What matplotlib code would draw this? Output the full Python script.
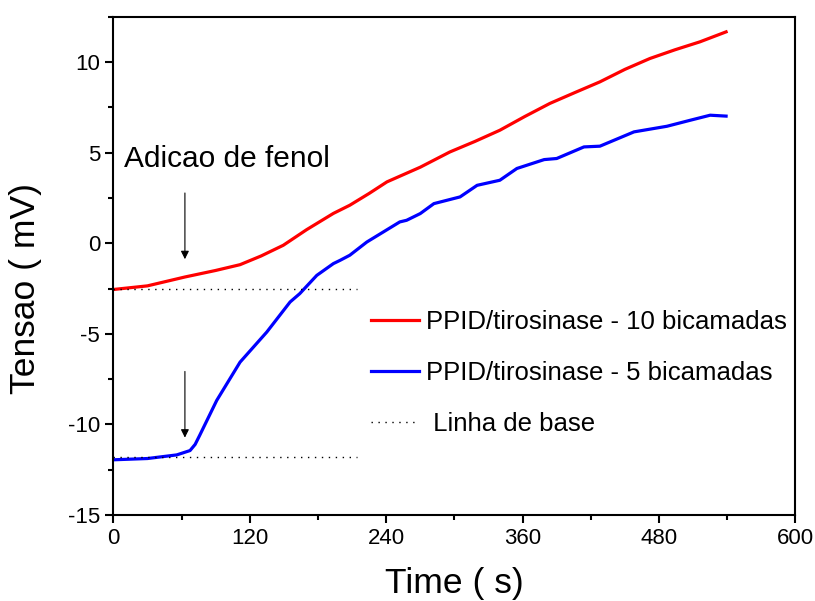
import matplotlib
matplotlib.use("Agg")
import matplotlib.pyplot as plt
from matplotlib.ticker import MultipleLocator

plt.rcParams['font.family'] = ['Liberation Sans', 'DejaVu Sans']
plt.rcParams['axes.unicode_minus'] = False

# values
t_red = [0, 30, 63, 90, 111.5, 130, 149.5, 170, 193.6, 208, 225, 240.7, 270, 296, 318, 340, 362, 384, 406, 428,
         450, 472, 494, 516, 539]
v_red = [-2.55, -2.35, -1.86, -1.5, -1.18, -0.7, -0.11, 0.75, 1.65, 2.1, 2.75, 3.39, 4.2, 5.04, 5.62, 6.24, 7.0,
         7.72, 8.32, 8.91, 9.6, 10.2, 10.68, 11.12, 11.67]

t_blue = [0, 30, 55.8, 67.5, 72, 76, 91, 111.5, 135, 155.5, 164, 179, 193.6, 199.5, 208, 223, 252, 258,
          270, 282, 305, 320, 340, 355, 379, 390, 414, 428, 458, 487, 508, 525, 539]
v_blue = [-11.95, -11.88, -11.68, -11.44, -11.1, -10.6, -8.67, -6.56, -4.9, -3.24, -2.78, -1.77, -1.12, -0.94,
          -0.66, 0.07, 1.18, 1.27, 1.64, 2.19, 2.56, 3.2, 3.48, 4.13, 4.62, 4.68, 5.32, 5.36, 6.15, 6.46, 6.8,
          7.07, 7.02]

base_t = [0, 214]
base_red = [-2.55, -2.55]
base_blue = [-11.8, -11.8]

arrow_t = 63
arrow_red = (2.93, -1.03)
arrow_blue = (-6.92, -10.88)

fig = plt.figure(figsize=(8.15, 6.01), dpi=100)
ax = fig.add_axes([0.139, 0.143, 0.837, 0.829])

ax.plot(t_red, v_red, color='#ff0000', lw=2.3, label='PPID/tirosinase - 10 bicamadas')
ax.plot(t_blue, v_blue, color='#0000ff', lw=2.3, label='PPID/tirosinase - 5 bicamadas')
ax.plot(base_t, base_red, color='black', lw=1, ls=(0, (1, 4)), label=' Linha de base')
ax.plot(base_t, base_blue, color='black', lw=1, ls=(0, (1, 4)))

for y0, y1 in [arrow_red, arrow_blue]:
    ax.annotate('', xy=(arrow_t, y1), xytext=(arrow_t, y0),
                arrowprops=dict(arrowstyle='-|>', color='black', lw=0.8, mutation_scale=12))

ax.text(9, 4.2, 'Adicao de fenol', fontsize=21.5)

ax.set_xlim(0, 600)
ax.set_ylim(-15, 12.5)
ax.set_xticks([0, 120, 240, 360, 480, 600])
ax.set_yticks([-15, -10, -5, 0, 5, 10])
ax.xaxis.set_minor_locator(MultipleLocator(60))
ax.yaxis.set_minor_locator(MultipleLocator(2.5))
ax.tick_params(which='major', direction='out', length=6, width=1.5, labelsize=16)
ax.tick_params(which='minor', direction='out', length=3.5, width=1.5)
for s in ax.spines.values():
    s.set_linewidth(1.5)

ax.set_xlabel('Time ( s)', fontsize=25.5, labelpad=13)
ax.set_ylabel('Tensao ( mV)', fontsize=25.5)
ax.yaxis.set_label_coords(-0.104, 0.455)

ax.legend(loc='center left', bbox_to_anchor=(0.378, 0.285), frameon=False, fontsize=18.5,
          handlelength=1.85, handletextpad=0.3, labelspacing=1.05, borderpad=0, borderaxespad=0)

fig.savefig('out.png', dpi=100)
